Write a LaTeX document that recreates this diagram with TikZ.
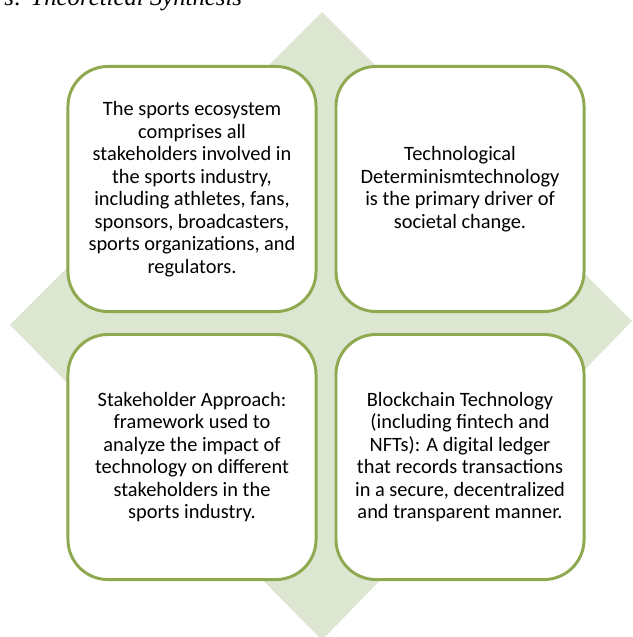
\documentclass[tikz,border=0pt]{standalone}
\usepackage{fontspec}
\setmainfont{Carlito}
\newfontfamily\titlefont{Liberation Serif}
\usetikzlibrary{matrix,backgrounds,positioning}
\definecolor{quadline}{HTML}{8EA94F}
\definecolor{quadfill}{HTML}{DDE6D1}

\begin{document}
\begin{tikzpicture}[x=0.025cm,y=-0.025cm,
  quad/.style={draw=quadline, line width=2.1pt, fill=white, rounded corners=1cm,
    minimum width=6.2cm, minimum height=6.125cm, align=center, outer sep=0pt,
    font=\fontsize{14.5}{16}\selectfont},
]

\useasboundingbox (0,0) rectangle (632,637);
\clip (0,0) rectangle (632,637);

\node[anchor=base east, font=\titlefont\itshape\fontsize{17.6}{20}\selectfont] (title) at (247,6) {s: Theoretical Synthesis};

\matrix[column sep=0.425cm, row sep=0.5cm] (quads) at (326,323) {
  \node[quad] (ecosystem) {The sports ecosystem\\ comprises all\\ stakeholders involved in\\ the sports industry,\\ including athletes, fans,\\ sponsors, broadcasters,\\ sports organizations, and\\ regulators.}; &
  \node[quad] (determinism) {Technological\\ Determinismtechnology\\ is the primary driver of\\ societal change.}; \\
  \node[quad] (stakeholder) {Stakeholder Approach:\\ framework used to\\ analyze the impact of\\ technology on different\\ stakeholders in the\\ sports industry.}; &
  \node[quad] (blockchain) {Blockchain Technology\\ (including fintech and\\ NFTs): A digital ledger\\ that records transactions\\ in a secure, decentralized\\ and transparent manner.}; \\
};

\begin{scope}[on background layer]
\fill[quadfill] (10,325) -- (322,12) -- (632,321) -- (322,640) -- cycle;
\end{scope}

\end{tikzpicture}
\end{document}
